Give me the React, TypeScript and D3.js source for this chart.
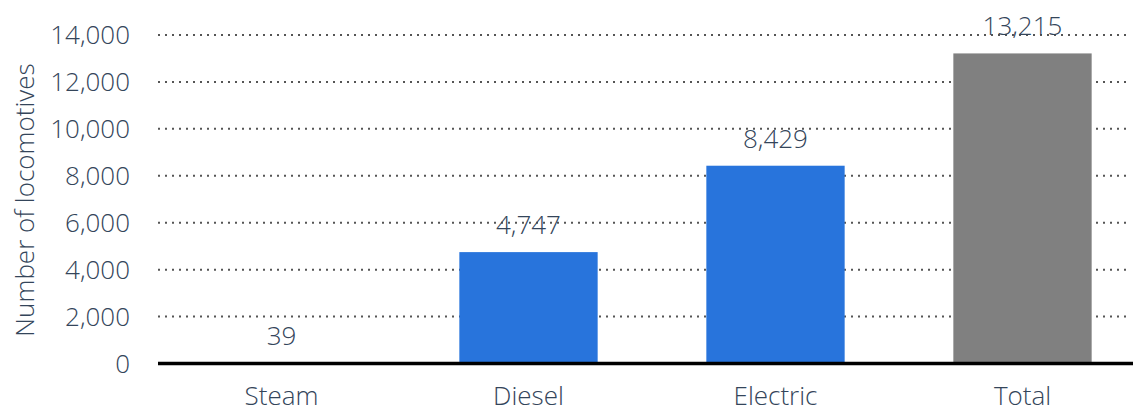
import React, { useEffect, useRef } from "react";
import * as d3 from "d3";

const categories = ["Steam", "Diesel", "Electric", "Total"];
const values = [39, 4747, 8429, 13215];
const yTicks = [0, 2000, 4000, 6000, 8000, 10000, 12000, 14000];
const yTitle = "Number of locomotives";

const W = 1133;
const H = 412;
const FONT = "'Open Sans', sans-serif";
const TEXT = "#34455a";
const FS = "26px";

const App = () => {
  const ref = useRef<SVGSVGElement>(null);

  useEffect(() => {
    if (!ref.current) return;
    const svg = d3.select(ref.current);
    svg.selectAll("*").remove();

    const left = 158;
    const gridRight = 1130;

    const x = d3.scaleBand()
      .domain(categories)
      .range([left, 1146])
      .paddingInner(0.44)
      .paddingOuter(0.22);

    const y = d3.scaleLinear()
      .domain([0, 14000])
      .range([363.5, 35]);

    const fmt = d3.format(",");

    // Gridlines
    svg.append("g")
      .selectAll("line")
      .data(yTicks.filter(t => t > 0))
      .enter()
      .append("line")
      .attr("x1", left)
      .attr("x2", gridRight)
      .attr("y1", d => y(d))
      .attr("y2", d => y(d))
      .attr("stroke", "#555")
      .attr("stroke-width", 2)
      .attr("stroke-dasharray", "2,5");

    // Tick labels
    svg.append("g")
      .selectAll("text")
      .data(yTicks)
      .enter()
      .append("text")
      .attr("x", 130)
      .attr("y", d => y(d))
      .attr("dy", "0.35em")
      .attr("text-anchor", "end")
      .style("font-family", FONT)
      .style("font-weight", 300)
      .style("font-size", FS)
      .style("fill", TEXT)
      .text(d => fmt(d));

    // Bars
    svg.append("g")
      .selectAll("rect")
      .data(values)
      .enter()
      .append("rect")
      .attr("x", (d, i) => x(categories[i]) || 0)
      .attr("width", x.bandwidth())
      .attr("y", d => y(d))
      .attr("height", d => y(0) - y(d))
      .attr("fill", (d, i) => (categories[i] === "Total" ? "#808080" : "#2874dc"));

    // Zero line
    svg.append("line")
      .attr("x1", left)
      .attr("x2", W)
      .attr("y1", y(0))
      .attr("y2", y(0))
      .attr("stroke", "#000")
      .attr("stroke-width", 3.5);

    // Value labels
    svg.append("g")
      .selectAll("text")
      .data(values)
      .enter()
      .append("text")
      .attr("x", (d, i) => (x(categories[i]) || 0) + x.bandwidth() / 2)
      .attr("y", d => y(d) - 18)
      .attr("text-anchor", "middle")
      .style("font-family", FONT)
      .style("font-weight", 300)
      .style("font-size", FS)
      .style("fill", TEXT)
      .text(d => fmt(d));

    // Category labels
    svg.append("g")
      .selectAll("text")
      .data(categories)
      .enter()
      .append("text")
      .attr("x", d => (x(d) || 0) + x.bandwidth() / 2)
      .attr("y", 405)
      .attr("text-anchor", "middle")
      .style("font-family", FONT)
      .style("font-weight", 300)
      .style("font-size", FS)
      .style("fill", TEXT)
      .text(d => d);

    // Y axis title
    svg.append("text")
      .attr("transform", `translate(34, 200) rotate(-90)`)
      .attr("text-anchor", "middle")
      .style("font-family", FONT)
      .style("font-weight", 300)
      .style("font-size", FS)
      .style("fill", TEXT)
      .text(yTitle);
  }, []);

  return (
    <svg
      ref={ref}
      width={W}
      height={H}
      style={{ position: "absolute", left: 0, top: 0, background: "#fff" }}
    />
  );
};

export default App;
